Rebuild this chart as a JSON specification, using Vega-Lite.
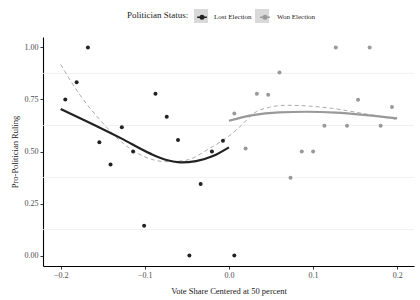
{
  "$schema": "https://vega.github.io/schema/vega-lite/v6.json",
  "width": 371,
  "height": 229,
  "autosize": {"type": "none"},
  "padding": {"left": 43, "top": 37, "right": 6, "bottom": 34},
  "background": "white",
  "config": {
    "view": {"stroke": null},
    "font": "Liberation Serif",
    "axis": {
      "labelFont": "Liberation Serif",
      "titleFont": "Liberation Serif",
      "labelFontSize": 8,
      "titleFontSize": 8.5,
      "titleFontWeight": "normal",
      "labelColor": "#4d4d4d",
      "titleColor": "#222222",
      "domainColor": "#000000",
      "domainWidth": 1.1,
      "tickColor": "#333333",
      "tickSize": 3,
      "grid": false
    },
    "legend": {
      "padding": 0,
      "titleFont": "Liberation Serif",
      "labelFont": "Liberation Serif",
      "titleFontSize": 9,
      "labelFontSize": 7,
      "titleFontWeight": "normal",
      "titleColor": "#222222",
      "labelColor": "#222222",
      "titlePadding": 5,
      "labelOffset": 4,
      "columnPadding": 5,
      "symbolSize": 196,
      "symbolOpacity": 1
    }
  },
  "datasets": {
    "points": [
      {"x": -0.1945, "y": 0.750, "status": "Lost Election"},
      {"x": -0.181, "y": 0.833, "status": "Lost Election"},
      {"x": -0.1676, "y": 1.0, "status": "Lost Election"},
      {"x": -0.154, "y": 0.545, "status": "Lost Election"},
      {"x": -0.1407, "y": 0.437, "status": "Lost Election"},
      {"x": -0.1273, "y": 0.616, "status": "Lost Election"},
      {"x": -0.1139, "y": 0.5, "status": "Lost Election"},
      {"x": -0.1008, "y": 0.143, "status": "Lost Election"},
      {"x": -0.0873, "y": 0.777, "status": "Lost Election"},
      {"x": -0.0739, "y": 0.667, "status": "Lost Election"},
      {"x": -0.0605, "y": 0.555, "status": "Lost Election"},
      {"x": -0.047, "y": 0.0, "status": "Lost Election"},
      {"x": -0.0336, "y": 0.344, "status": "Lost Election"},
      {"x": -0.0202, "y": 0.5, "status": "Lost Election"},
      {"x": -0.0071, "y": 0.552, "status": "Lost Election"},
      {"x": 0.0064, "y": 0.0, "status": "Lost Election"},
      {"x": 0.0064, "y": 0.683, "status": "Won Election"},
      {"x": 0.0198, "y": 0.514, "status": "Won Election"},
      {"x": 0.0332, "y": 0.777, "status": "Won Election"},
      {"x": 0.0467, "y": 0.773, "status": "Won Election"},
      {"x": 0.0601, "y": 0.88, "status": "Won Election"},
      {"x": 0.0732, "y": 0.374, "status": "Won Election"},
      {"x": 0.0866, "y": 0.5, "status": "Won Election"},
      {"x": 0.1001, "y": 0.5, "status": "Won Election"},
      {"x": 0.1135, "y": 0.624, "status": "Won Election"},
      {"x": 0.127, "y": 1.0, "status": "Won Election"},
      {"x": 0.1404, "y": 0.624, "status": "Won Election"},
      {"x": 0.1535, "y": 0.749, "status": "Won Election"},
      {"x": 0.1673, "y": 1.0, "status": "Won Election"},
      {"x": 0.1803, "y": 0.624, "status": "Won Election"},
      {"x": 0.1938, "y": 0.714, "status": "Won Election"}
    ],
    "fits": [
      {"x": -0.2, "y": 0.704, "status": "Lost Election"},
      {"x": -0.165, "y": 0.637, "status": "Lost Election"},
      {"x": -0.128, "y": 0.563, "status": "Lost Election"},
      {"x": -0.094, "y": 0.491, "status": "Lost Election"},
      {"x": -0.074, "y": 0.459, "status": "Lost Election"},
      {"x": -0.057, "y": 0.448, "status": "Lost Election"},
      {"x": -0.039, "y": 0.454, "status": "Lost Election"},
      {"x": -0.019, "y": 0.478, "status": "Lost Election"},
      {"x": 0.0, "y": 0.52, "status": "Lost Election"},
      {"x": 0.0, "y": 0.648, "status": "Won Election"},
      {"x": 0.0285, "y": 0.675, "status": "Won Election"},
      {"x": 0.06, "y": 0.688, "status": "Won Election"},
      {"x": 0.092, "y": 0.691, "status": "Won Election"},
      {"x": 0.127, "y": 0.687, "status": "Won Election"},
      {"x": 0.163, "y": 0.675, "status": "Won Election"},
      {"x": 0.2, "y": 0.659, "status": "Won Election"}
    ],
    "overall": [
      {"x": -0.2, "y": 0.918},
      {"x": -0.177, "y": 0.771},
      {"x": -0.153, "y": 0.651},
      {"x": -0.128, "y": 0.547},
      {"x": -0.102, "y": 0.478},
      {"x": -0.074, "y": 0.451},
      {"x": -0.051, "y": 0.458},
      {"x": -0.023, "y": 0.515},
      {"x": 0.0, "y": 0.574},
      {"x": 0.013, "y": 0.619},
      {"x": 0.0325, "y": 0.691},
      {"x": 0.048, "y": 0.712},
      {"x": 0.068, "y": 0.722},
      {"x": 0.092, "y": 0.719},
      {"x": 0.123, "y": 0.707},
      {"x": 0.159, "y": 0.683},
      {"x": 0.2, "y": 0.654}
    ],
    "grid": [
      {"g": 0.125}, {"g": 0.375}, {"g": 0.625}, {"g": 0.875}
    ]
  },
  "layer": [
    {
      "data": {"name": "grid"},
      "mark": {"type": "rule", "color": "#eeeeee", "strokeWidth": 0.8},
      "encoding": {
        "y": {"field": "g", "type": "quantitative", "title": "Pro-Politician Ruling",
              "scale": {"domain": [-0.05, 1.05], "nice": false, "zero": false}}
      }
    },
    {
      "data": {"name": "points"},
      "mark": {"type": "point", "filled": true, "size": 1, "color": "#d9d9d9", "opacity": 0},
      "encoding": {
        "x": {"field": "x", "type": "quantitative", "title": "Vote Share Centered at 50 percent"},
        "y": {"field": "y", "type": "quantitative", "title": "Pro-Politician Ruling"},
        "shape": {
          "field": "status", "type": "nominal",
          "scale": {"range": ["square", "square"]},
          "legend": {
            "orient": "none", "legendX": 84, "legendY": -28, "direction": "horizontal",
            "title": "Politician Status:", "titleOrient": "left", "zindex": 0,
            "titleColor": "rgba(0,0,0,0)", "labelColor": "rgba(0,0,0,0)",
            "symbolOpacity": 1, "symbolFillColor": "#d9d9d9", "symbolStrokeColor": "#d9d9d9", "symbolStrokeWidth": 0
          }
        }
      }
    },
    {
      "data": {"name": "overall"},
      "mark": {"type": "line", "color": "#aaaaaa", "strokeWidth": 1, "strokeDash": [4, 3], "interpolate": "monotone"},
      "encoding": {
        "x": {"field": "x", "type": "quantitative", "title": "Vote Share Centered at 50 percent"},
        "y": {"field": "y", "type": "quantitative", "title": "Pro-Politician Ruling"}
      }
    },
    {
      "data": {"name": "fits"},
      "mark": {"type": "line", "strokeWidth": 2.2, "interpolate": "monotone"},
      "encoding": {
        "x": {"field": "x", "type": "quantitative", "title": "Vote Share Centered at 50 percent"},
        "y": {"field": "y", "type": "quantitative", "title": "Pro-Politician Ruling"},
        "color": {
          "field": "status", "type": "nominal",
          "scale": {"domain": ["Lost Election", "Won Election"], "range": ["#222222", "#999999"]},
          "legend": {
            "orient": "none", "legendX": 84, "legendY": -28, "direction": "horizontal",
            "title": "Politician Status:", "titleOrient": "left", "zindex": 1,
            "symbolType": "M-0.7,0L0.7,0M-0.25,0A0.25,0.25,0,1,1,0.25,0A0.25,0.25,0,1,1,-0.25,0",
            "symbolStrokeWidth": 1.5
          }
        }
      }
    },
    {
      "data": {"name": "points"},
      "mark": {"type": "point", "filled": true, "size": 16, "opacity": 1},
      "encoding": {
        "x": {"field": "x", "type": "quantitative", "title": "Vote Share Centered at 50 percent",
              "scale": {"domain": [-0.221, 0.22], "nice": false, "zero": false},
              "axis": {"values": [-0.2, -0.1, 0, 0.1, 0.2], "format": ".1f", "labelPadding": 2, "titlePadding": 7}},
        "y": {"field": "y", "type": "quantitative", "title": "Pro-Politician Ruling",
              "axis": {"values": [0, 0.25, 0.5, 0.75, 1], "format": ".2f", "labelPadding": 2, "titlePadding": 5}},
        "color": {
          "field": "status", "type": "nominal",
          "scale": {"domain": ["Lost Election", "Won Election"], "range": ["#222222", "#999999"]},
          "legend": {
            "orient": "none", "legendX": 84, "legendY": -28, "direction": "horizontal",
            "title": "Politician Status:", "titleOrient": "left", "zindex": 1,
            "symbolType": "M-0.7,0L0.7,0M-0.25,0A0.25,0.25,0,1,1,0.25,0A0.25,0.25,0,1,1,-0.25,0",
            "symbolStrokeWidth": 1.5
          }
        }
      }
    },
    {
      "mark": {"type": "rule", "color": "#000000", "strokeWidth": 1.2, "strokeDash": [7, 4]},
      "encoding": {"x": {"datum": 0}}
    },
    {
      "mark": {"type": "rule", "color": "#000000", "strokeWidth": 1.1},
      "encoding": {"y": {"datum": 1.05}}
    },
    {
      "mark": {"type": "rule", "color": "#888888", "strokeWidth": 2},
      "encoding": {"x": {"datum": 0.22}}
    }
  ]
}
